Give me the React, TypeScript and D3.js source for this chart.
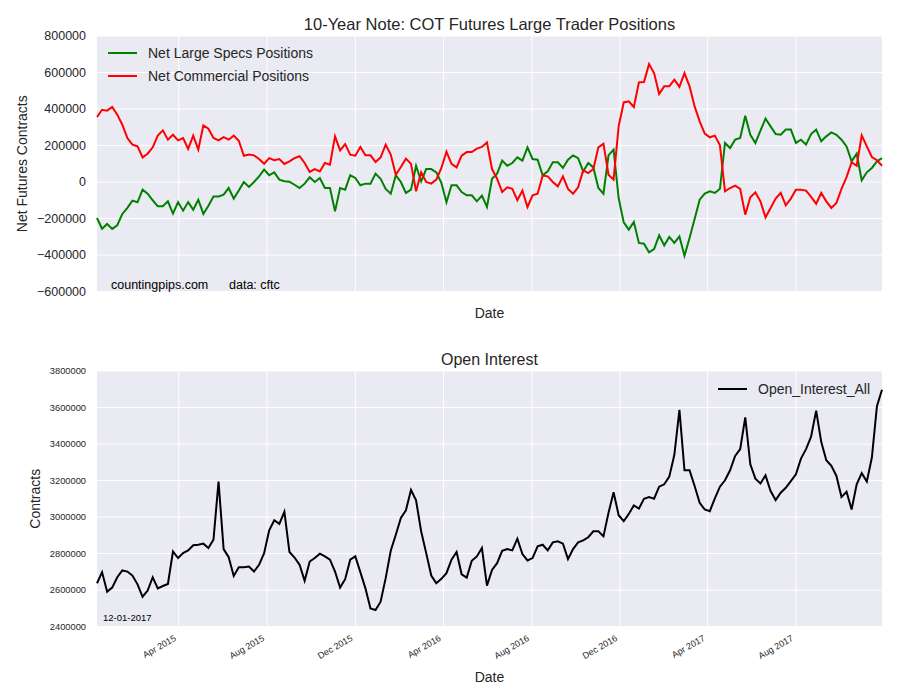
import React from 'react';
import * as d3 from 'd3';

// Weekly COT report dates (Tuesdays), 2014-12-09 .. 2017-11-28
const START_DATE = new Date(Date.UTC(2014, 11, 9));
const END_DATE = new Date(Date.UTC(2017, 10, 29));
const dates: Date[] = d3.utcTuesday.range(START_DATE, END_DATE);

// Values in thousands of contracts
const netLargeSpecs = [
  -197, -256, -230, -257, -237, -175, -142, -102, -111, -42, -64, -100, -133, -133, -106, -173, -110, -157, -110, -152,
  -97, -175, -130, -79, -79, -69, -33, -91, -47, 0, -27, 0, 31, 68, 37, 53, 13, 4, 2, -15,
  -33, -9, 26, 0, 22, -33, -33, -161, -33, -42,
  37, 22, -18, -9, -9, 46, 18, -38, -64, 37, 0, -60, -42, 89, 4, 71, 71, 53, -5, -111,
  -18, -18, -55, -73, -73, -106, -75, -137, 18, 46, 117, 89, 104, 135, 117, 190, 126, 122, 37, 58,
  108, 108, 77, 122, 146, 131, 58, 104, 80, -33, -64, 146, 177, -88,
  -221, -261, -219, -334, -338, -385, -367, -292, -347, -301, -334, -298, -404, -307, -203, -97, -64, -51, -60, -37,
  214, 186, 232, 241, 363, 259, 214, 281, 347, 305, 263, 259, 287, 287, 214, 232, 205, 263, 287, 223,
  250, 272, 259, 232, 195, 113, 155, 9, 53, 77, 113, 131,
];

const netCommercial = [
  356, 396, 391, 411, 369, 314, 241, 205, 195, 135, 155, 190, 254, 283, 232, 259, 228, 241, 181, 254,
  177, 310, 292, 241, 228, 246, 232, 254, 226, 144, 150, 146, 126, 100, 131, 119, 126, 99, 113, 131,
  141, 104, 55, 71, 58, 104, 95, 250, 173, 208,
  150, 144, 192, 146, 146, 110, 135, 205, 150, 40, 82, 128, 99, -51, 53, 0, -9, 13, 77, 166,
  99, 80, 144, 164, 164, 183, 192, 217, 71, 18, -55, -29, -37, -100, -47, -137, -73, -64, 35, 31,
  0, -24, 31, -38, -64, -29, 64, 49, 71, 190, 210, 40,
  13, 305, 436, 442, 411, 546, 548, 646, 597, 482, 524, 524, 561, 521, 597, 524, 414, 332, 265, 245,
  254, 201, -51, -33, -20, -38, -179, -84, -57, -106, -194, -142, -91, -60, -128, -91, -42, -42, -47, -82,
  -119, -60, -106, -142, -115, -38, 27, 108, 89, 256, 195, 137, 119, 89,
];

const openInterestAll = [
  2637, 2698, 2591, 2613, 2670, 2707, 2701, 2679, 2631, 2563, 2597, 2670, 2609, 2622, 2633, 2811, 2775, 2802, 2817, 2845,
  2848, 2854, 2830, 2876, 3194, 2824, 2780, 2677, 2725, 2725, 2729, 2701, 2738, 2802, 2927, 2982, 2962, 3028, 2808, 2778,
  2738, 2650, 2756, 2775, 2799, 2784, 2766, 2701, 2613, 2659,
  2766, 2784, 2698, 2609, 2499, 2490, 2536, 2665, 2815, 2903, 2995, 3037, 3148, 3091, 2922, 2802, 2679, 2637, 2661, 2692,
  2766, 2808, 2686, 2668, 2760, 2784, 2830, 2624, 2710, 2747, 2815, 2824, 2817, 2881, 2797, 2762, 2775, 2839, 2848, 2817,
  2861, 2867, 2854, 2769, 2824, 2861, 2872, 2889, 2922, 2922, 2894, 3023,
  3136, 3010, 2977, 3017, 3063, 3046, 3100, 3109, 3100, 3166, 3179, 3221, 3341, 3587, 3256, 3256, 3170, 3078, 3041, 3032,
  3102, 3166, 3201, 3256, 3335, 3372, 3546, 3289, 3210, 3184, 3228, 3142, 3093, 3133, 3160, 3197, 3234, 3320, 3372, 3440,
  3583, 3412, 3311, 3280, 3225, 3109, 3138, 3041, 3179, 3240, 3194, 3326, 3607, 3697,
];

const topYTicks = [-600000, -400000, -200000, 0, 200000, 400000, 600000, 800000];
const bottomYTicks = [2400000, 2600000, 2800000, 3000000, 3200000, 3400000, 3600000, 3800000];
const dateTicks = [
  new Date(Date.UTC(2015, 3, 1)), new Date(Date.UTC(2015, 7, 1)), new Date(Date.UTC(2015, 11, 1)),
  new Date(Date.UTC(2016, 3, 1)), new Date(Date.UTC(2016, 7, 1)), new Date(Date.UTC(2016, 11, 1)),
  new Date(Date.UTC(2017, 3, 1)), new Date(Date.UTC(2017, 7, 1)),
];
const dateTickFormat = d3.utcFormat('%b %Y');

const FONT = 'Liberation Sans, Arial, sans-serif';
const TXT = '#262626';
const BG = '#EAEAF2';

const fmtNum = (v: number) => (v < 0 ? '\u2212' + Math.abs(v) : String(v));

export default function App() {
  const left = 97;
  const right = 882;
  const x = d3.scaleUtc().domain([dates[0], dates[dates.length - 1]]).range([left, right]);
  const yTop = d3.scaleLinear().domain([-600000, 800000]).range([291.5, 36]);
  const yBot = d3.scaleLinear().domain([2400000, 3800000]).range([626.5, 371]);

  const lineTop = d3.line<number>().x((_, i) => x(dates[i])).y((d) => yTop(d * 1000));
  const lineBot = d3.line<number>().x((_, i) => x(dates[i])).y((d) => yBot(d * 1000));

  const panel = (y: d3.ScaleLinear<number, number>, ticks: number[]) => {
    const [y0, y1] = y.range();
    return (
      <g>
        <rect x={left} y={y1} width={right - left} height={y0 - y1} fill={BG} />
        {ticks.map((t) => (
          <line key={'h' + t} x1={left} x2={right} y1={y(t)} y2={y(t)} stroke="#fff" strokeWidth={1} />
        ))}
        {dateTicks.map((d) => (
          <line key={'v' + d.getTime()} x1={x(d)} x2={x(d)} y1={y1} y2={y0} stroke="#fff" strokeWidth={1} />
        ))}
      </g>
    );
  };

  return (
    <svg width={900} height={700} style={{ position: 'absolute', left: 0, top: 0, background: '#fff' }} fontFamily={FONT}>
      {/* Top panel */}
      {panel(yTop, topYTicks)}
      <text x={489.5} y={30} textAnchor="middle" fontSize={16.5} fill={TXT}>
        10-Year Note: COT Futures Large Trader Positions
      </text>
      {topYTicks.map((t) => (
        <text key={'ty' + t} x={86} y={yTop(t)} dy="0.35em" textAnchor="end" fontSize={12.5} fill={TXT}>
          {fmtNum(t)}
        </text>
      ))}
      <text transform={`translate(27,${(36 + 291.5) / 2}) rotate(-90)`} textAnchor="middle" fontSize={14} fill={TXT}>
        Net Futures Contracts
      </text>
      <text x={489.5} y={318} textAnchor="middle" fontSize={14} fill={TXT}>Date</text>
      <path d={lineTop(netLargeSpecs) || ''} fill="none" stroke="#008000" strokeWidth={2} />
      <path d={lineTop(netCommercial) || ''} fill="none" stroke="#FF0000" strokeWidth={2} />
      <text x={111} y={289} fontSize={12.5} fill="#000">countingpips.com</text>
      <text x={229} y={289} fontSize={12.5} fill="#000">data: cftc</text>
      {/* Top legend */}
      <line x1={108} x2={137} y1={53} y2={53} stroke="#008000" strokeWidth={2} />
      <text x={148} y={53} dy="0.35em" fontSize={14} fill={TXT}>Net Large Specs Positions</text>
      <line x1={108} x2={137} y1={76} y2={76} stroke="#FF0000" strokeWidth={2} />
      <text x={148} y={76} dy="0.35em" fontSize={14} fill={TXT}>Net Commercial Positions</text>

      {/* Bottom panel */}
      {panel(yBot, bottomYTicks)}
      <text x={489.5} y={365} textAnchor="middle" fontSize={16} fill={TXT}>Open Interest</text>
      {bottomYTicks.map((t) => (
        <text key={'by' + t} x={86} y={yBot(t)} dy="0.35em" textAnchor="end" fontSize={9.3} fill={TXT}>
          {fmtNum(t)}
        </text>
      ))}
      <text transform={`translate(40,${(371 + 626.5) / 2}) rotate(-90)`} textAnchor="middle" fontSize={14} fill={TXT}>
        Contracts
      </text>
      {dateTicks.map((d) => (
        <text key={'dt' + d.getTime()} transform={`translate(${x(d) - 2},640) rotate(-30)`} textAnchor="end" fontSize={9} fill={TXT}>
          {dateTickFormat(d)}
        </text>
      ))}
      <text x={489.5} y={682} textAnchor="middle" fontSize={14} fill={TXT}>Date</text>
      <path d={lineBot(openInterestAll) || ''} fill="none" stroke="#000" strokeWidth={2} />
      <text x={103} y={621} fontSize={9.5} fill="#000">12-01-2017</text>
      {/* Bottom legend */}
      <line x1={718} x2={747} y1={389} y2={389} stroke="#000" strokeWidth={2} />
      <text x={758} y={389} dy="0.35em" fontSize={14} fill={TXT}>Open_Interest_All</text>
    </svg>
  );
}
